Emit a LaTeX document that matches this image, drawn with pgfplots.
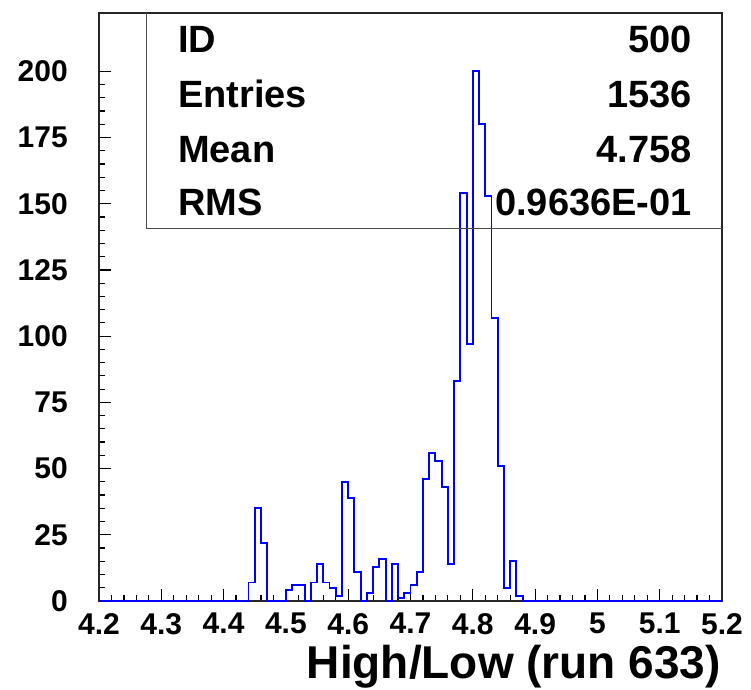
\documentclass[border=0pt]{standalone}
\usepackage{fontspec}
\setmainfont{Liberation Sans}
\usepackage{pgfplots}
\usepackage{pgfplotstable}
\pgfplotsset{compat=1.18}

% High/Low ratio, run 633: 100 bins of width 0.01 from 4.2 to 5.2 (left edge, entries)
\pgfplotstableread[row sep=\\]{
x y\\
4.20 0\\ 4.21 0\\ 4.22 0\\ 4.23 0\\ 4.24 0\\ 4.25 0\\ 4.26 0\\ 4.27 0\\ 4.28 0\\ 4.29 0\\
4.30 0\\ 4.31 0\\ 4.32 0\\ 4.33 0\\ 4.34 0\\ 4.35 0\\ 4.36 0\\ 4.37 0\\ 4.38 0\\ 4.39 0\\
4.40 0\\ 4.41 0\\ 4.42 0\\ 4.43 0\\ 4.44 7\\ 4.45 35\\ 4.46 22\\ 4.47 0\\ 4.48 0\\ 4.49 0\\
4.50 4\\ 4.51 6\\ 4.52 6\\ 4.53 0\\ 4.54 7\\ 4.55 14\\ 4.56 7\\ 4.57 5\\ 4.58 2\\ 4.59 45\\
4.60 39\\ 4.61 11\\ 4.62 0\\ 4.63 3\\ 4.64 13\\ 4.65 16\\ 4.66 0\\ 4.67 14\\ 4.68 1\\ 4.69 3\\
4.70 6\\ 4.71 11\\ 4.72 46\\ 4.73 56\\ 4.74 53\\ 4.75 43\\ 4.76 14\\ 4.77 83\\ 4.78 154\\ 4.79 97\\
4.80 200\\ 4.81 180\\ 4.82 153\\ 4.83 107\\ 4.84 51\\ 4.85 5\\ 4.86 15\\ 4.87 2\\ 4.88 0\\ 4.89 0\\
4.90 0\\ 4.91 0\\ 4.92 0\\ 4.93 0\\ 4.94 0\\ 4.95 0\\ 4.96 0\\ 4.97 0\\ 4.98 0\\ 4.99 0\\
5.00 0\\ 5.01 0\\ 5.02 0\\ 5.03 0\\ 5.04 0\\ 5.05 0\\ 5.06 0\\ 5.07 0\\ 5.08 0\\ 5.09 0\\
5.10 0\\ 5.11 0\\ 5.12 0\\ 5.13 0\\ 5.14 0\\ 5.15 0\\ 5.16 0\\ 5.17 0\\ 5.18 0\\ 5.19 0\\
5.20 0\\
}\histdata

\begin{document}
\begin{tikzpicture}
\useasboundingbox (-99pt,-88pt) rectangle (652pt,601pt);
\begin{axis}[
  at={(0pt,0pt)}, anchor=south west,
  scale only axis, width=623pt, height=588pt,
  xmin=4.2, xmax=5.2, ymin=0, ymax=222,
  axis line style={line width=1.6pt, black!85},
  xtick={4.2,4.3,4.4,4.5,4.6,4.7,4.8,4.9,5.0,5.1,5.2},
  xticklabels={4.2,4.3,4.4,4.5,4.6,4.7,4.8,4.9,5,5.1,5.2},
  ytick={0,25,50,75,100,125,150,175,200},
  yticklabels={0,25,50,75,100,125,150,175,200},
  minor x tick num=4, minor y tick num=4,
  tick pos=left, tick align=inside,
  major tick length=12pt, minor tick length=6pt,
  every tick/.style={black, line width=1.2pt},
  xticklabel style={font=\fontsize{30}{30}\selectfont\bfseries, anchor=north, inner sep=0pt, yshift=-12pt},
  yticklabel style={font=\fontsize{30}{30}\selectfont\bfseries, anchor=east, inner sep=0pt, xshift=-31pt},
  xlabel={High/Low (run 633)},
  xlabel style={font=\fontsize{46}{46}\selectfont\bfseries, at={(axis description cs:1,0)},
    anchor=base east, inner sep=0pt, yshift=-77pt, xshift=-1pt},
  clip=false,
]
\addplot[const plot, blue, line width=1.9pt] table[x=x, y=y] {\histdata};

% statistics box
\draw[black!70, line width=1pt] (rel axis cs:0.077,1) -- (rel axis cs:0.077,0.6327) -- (rel axis cs:1,0.6327);
\begin{scope}[every node/.style={font=\fontsize{38}{38}\selectfont\bfseries, inner sep=0pt}]
\node[anchor=base west] at (rel axis cs:0.1268,0.932) {ID};
\node[anchor=base west] at (rel axis cs:0.1268,0.840) {Entries};
\node[anchor=base west] at (rel axis cs:0.1268,0.7466) {Mean};
\node[anchor=base west] at (rel axis cs:0.1268,0.6548) {RMS};
\node[anchor=base east] at (rel axis cs:0.9518,0.932) {500};
\node[anchor=base east] at (rel axis cs:0.9518,0.840) {1536};
\node[anchor=base east] at (rel axis cs:0.9518,0.7466) {4.758};
\node[anchor=base east] at (rel axis cs:0.9518,0.6548) {0.9636E-01};
\end{scope}
\end{axis}
\end{tikzpicture}
\end{document}
